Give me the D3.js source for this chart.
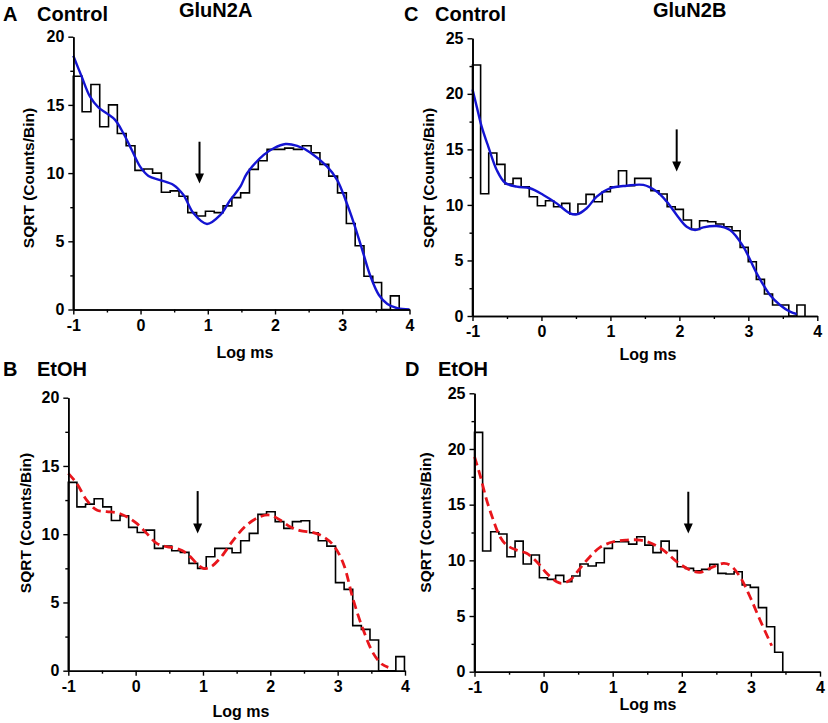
<!DOCTYPE html>
<html><head><meta charset="utf-8">
<script src="https://cdn.jsdelivr.net/npm/d3@7"></script>
<style>
body{margin:0;background:#fff}
text{font-family:"Liberation Sans",Arial,Helvetica,sans-serif;font-weight:bold;fill:#000}
</style>
</head><body>
<svg id="chart" width="828" height="723"></svg>
<script>
// ---------- DATA ----------
const xTicks = [-1, 0, 1, 2, 3, 4];
const xMinor = [-0.5, 0.5, 1.5, 2.5, 3.5];
const yTicks20 = [0, 5, 10, 15, 20];
const yMinor20 = [2.5, 7.5, 12.5, 17.5];
const yTicks25 = [0, 5, 10, 15, 20, 25];
const yMinor25 = [2.5, 7.5, 12.5, 17.5, 22.5];

// histogram bins (SQRT counts/bin), first bin starts at log ms = -1
const binWidthA = 0.131, binWidthB = 0.128, binWidthC = 0.1176, binWidthD = 0.1174;
const histA = [17.1,14.5,16.5,13.4,15.0,12.9,12.0,10.2,10.3,10.0,8.6,8.7,8.3,7.1,6.85,7.2,7.1,7.6,8.2,8.55,
  10.27,10.9,11.74,11.74,11.83,11.74,12.0,11.49,10.64,9.78,8.55,6.31,4.67,2.44,1.98,0,1.0];
const histB = [13.8,12.0,12.2,12.6,12.0,11.0,11.35,10.5,10.13,10.3,8.96,9.13,8.79,8.67,7.86,7.5,8.35,8.96,8.96,8.64,
  9.52,10.06,11.45,11.65,10.92,10.43,10.92,10.99,10.11,9.52,9.13,6.45,5.96,3.3,3.03,2.25,0,0,1.03];
const histC = [22.6,11.0,14.67,13.65,11.88,12.39,11.64,10.74,9.93,10.38,9.84,10.14,9.18,10.08,10.95,10.29,11.19,11.64,13.08,11.73,
  12.39,12.39,11.28,10.98,9.84,9.6,8.64,7.8,8.58,8.49,8.28,8.04,7.68,6.18,4.89,3.3,1.98,0.99,0.99,0,0.99];
const histD = [21.49,10.84,12.57,12.36,10.32,11.73,9.67,10.48,8.44,8.29,8.65,8.08,8.59,9.67,9.49,9.79,11.07,11.67,11.67,11.46,
  12.12,11.37,10.69,11.73,10.87,9.43,9.28,9.07,9.19,9.64,8.83,8.77,8.98,7.78,7.57,5.75,4.04,1.74];

// fitted curves
const fitAx = [-1.0,-0.875,-0.751,-0.627,-0.502,-0.379,-0.255,-0.130,-0.006,0.118,0.292,0.490,0.639,0.788,0.988,1.186,1.335,1.484,1.584,1.832,1.981,2.155,2.329,2.528,2.776,2.925,3.049,3.173,3.298,3.422,3.545,3.671,3.820,4.0];
const fitAy = [18.6,17.07,15.6,14.82,14.38,13.9,12.92,11.69,10.47,9.79,9.49,9.13,8.39,7.05,6.27,6.93,8.03,9.0,9.99,11.33,11.82,12.13,11.99,11.5,10.47,9.49,8.03,6.32,4.36,2.40,1.06,0.40,0.09,0.0];
const fitBx = [-1.0,-0.875,-0.727,-0.578,-0.43,-0.281,-0.133,0.016,0.164,0.313,0.461,0.610,0.758,0.907,1.005,1.104,1.253,1.451,1.649,1.847,1.995,2.144,2.292,2.441,2.639,2.787,2.935,3.084,3.232,3.381,3.529,3.654,3.752];
const fitBy = [14.46,13.72,12.5,11.77,11.65,11.58,11.28,10.79,10.06,9.33,9.08,8.96,8.6,7.86,7.5,7.57,8.23,9.57,10.67,11.28,11.4,11.04,10.55,10.26,10.11,9.82,9.2,7.86,5.18,2.98,1.27,0.49,0.24];
const fitCx = [-1.0,-0.939,-0.867,-0.771,-0.649,-0.529,-0.359,-0.166,0.027,0.221,0.414,0.511,0.656,0.801,0.994,1.236,1.477,1.671,1.816,1.961,2.106,2.227,2.347,2.541,2.734,2.927,3.121,3.314,3.459,3.604,3.701];
const fitCy = [20.4,18.85,17.05,15.25,13.15,12.0,11.64,11.5,10.9,10.14,9.24,9.15,9.7,10.74,11.5,11.73,11.8,11.2,10.3,9.1,8.04,7.74,7.98,8.1,7.74,6.24,3.84,1.89,0.99,0.39,0.18];
const fitDx = [-1.0,-0.920,-0.824,-0.728,-0.631,-0.535,-0.389,-0.245,-0.100,0.045,0.190,0.262,0.382,0.527,0.671,0.816,1.009,1.202,1.395,1.540,1.732,1.926,2.119,2.263,2.408,2.601,2.698,2.842,2.987,3.132,3.301];
const fitDy = [19.3,17.66,15.41,13.62,12.12,11.37,10.92,10.63,9.88,8.83,8.08,7.93,8.23,9.28,10.33,11.16,11.67,11.82,11.82,11.58,10.92,9.88,9.13,8.92,9.28,9.73,9.58,8.53,6.73,4.64,2.33];

// arrows: [x, top value, tip value]
const arrowA = [0.877, 12.3, 9.24];
const arrowB = [0.921, 13.16, 10.06];
const arrowC = [1.961, 16.8, 13.0];
const arrowD = [2.094, 16.16, 12.42];

// ---------- LAYOUT ----------
const svg = d3.select("#chart");
const BLUE = "#1414d2", RED = "#e8161c";
const FONT = '"Liberation Sans",Arial,Helvetica,sans-serif';

const panels = [
  {hist: histA, bw: binWidthA, fx: fitAx, fy: fitAy, arrow: arrowA, ymax: 20, yT: yTicks20, yM: yMinor20,
   x0: 73.3, x1: 409.5, yb: 309.5, yt: 36.7, color: BLUE, dash: null,
   ylab: [28.5, 178], xlab: [245, 358]},
  {hist: histB, bw: binWidthB, fx: fitBx, fy: fitBy, arrow: arrowB, ymax: 20, yT: yTicks20, yM: yMinor20,
   x0: 68.3, x1: 405, yb: 670.7, yt: 397.7, color: RED, dash: "9,5",
   ylab: [25, 523], xlab: [241, 717]},
  {hist: histC, bw: binWidthC, fx: fitCx, fy: fitCy, arrow: arrowC, ymax: 25, yT: yTicks25, yM: yMinor25,
   x0: 472.5, x1: 817.3, yb: 316, yt: 38.3, color: BLUE, dash: null,
   ylab: [428.5, 178], xlab: [648, 360]},
  {hist: histD, bw: binWidthD, fx: fitDx, fy: fitDy, arrow: arrowD, ymax: 25, yT: yTicks25, yM: yMinor25,
   x0: 474.5, x1: 820, yb: 671.7, yt: 393.3, color: RED, dash: "9,5",
   ylab: [425, 522.5], xlab: [648, 710]}
];

panels.forEach(p => {
  const x = d3.scaleLinear().domain([-1, 4]).range([p.x0, p.x1]);
  const y = d3.scaleLinear().domain([0, p.ymax]).range([p.yb, p.yt]);
  const g = svg.append("g");

  // histogram step outline
  const pts = [[x(-1), y(0)]];
  p.hist.forEach((v, i) => {
    const l = -1 + i * p.bw, r = -1 + (i + 1) * p.bw;
    pts.push([x(l), y(v)], [x(r), y(v)]);
  });
  pts.push([x(-1 + p.hist.length * p.bw), y(0)]);
  g.append("path").attr("d", d3.line()(pts))
    .attr("fill", "none").attr("stroke", "#000").attr("stroke-width", 1.6)
    .attr("stroke-linejoin", "miter");

  // fitted curve
  const line = d3.line().x(d => x(d[0])).y(d => y(d[1])).curve(d3.curveCatmullRom.alpha(0.5));
  const cp = g.append("path").attr("d", line(p.fx.map((v, i) => [v, p.fy[i]])))
    .attr("fill", "none").attr("stroke", p.color).attr("stroke-width", p.dash ? 2.8 : 2.4);
  if (p.dash) cp.attr("stroke-dasharray", p.dash);

  // axes
  const fmt = d => String(d);
  g.append("g").attr("transform", `translate(0,${p.yb})`)
    .call(d3.axisBottom(x).tickValues(xTicks).tickSize(5).tickSizeOuter(0).tickPadding(5).tickFormat(fmt));
  g.append("g").attr("transform", `translate(0,${p.yb})`)
    .call(d3.axisBottom(x).tickValues(xMinor).tickSize(3).tickSizeOuter(0).tickFormat(""));
  g.append("g").attr("transform", `translate(${p.x0},0)`)
    .call(d3.axisLeft(y).tickValues(p.yT).tickSize(5).tickSizeOuter(0).tickPadding(4).tickFormat(fmt));
  g.append("g").attr("transform", `translate(${p.x0},0)`)
    .call(d3.axisLeft(y).tickValues(p.yM).tickSize(3).tickSizeOuter(0).tickFormat(""));
  g.selectAll(".domain").attr("stroke", "#000").attr("stroke-width", 1.6);
  g.selectAll(".tick line").attr("stroke", "#000").attr("stroke-width", 1.4);
  g.selectAll(".tick text").style("font-size", "16px").style("font-family", FONT)
    .style("font-weight", "bold").attr("fill", "#000");

  // arrow
  const [ax, a1, a2] = p.arrow;
  const tipY = y(a2);
  g.append("line").attr("x1", x(ax)).attr("x2", x(ax)).attr("y1", y(a1)).attr("y2", tipY - 6)
    .attr("stroke", "#000").attr("stroke-width", 2);
  g.append("path").attr("d", `M${x(ax) - 4.5},${tipY - 10} L${x(ax) + 4.5},${tipY - 10} L${x(ax)},${tipY} Z`)
    .attr("fill", "#000");

  // axis labels
  g.append("text").attr("transform", `translate(${p.ylab[0]},${p.ylab[1]}) rotate(-90)`)
    .attr("text-anchor", "middle").attr("dominant-baseline", "central").style("font-size", "15.5px")
    .text("SQRT (Counts/Bin)");
  g.append("text").attr("x", p.xlab[0]).attr("y", p.xlab[1]).attr("text-anchor", "middle")
    .style("font-size", "16px").text("Log ms");
});

// titles
const titles = [
  ["A", 3, 21], ["Control", 37, 21], ["GluN2A", 179, 17],
  ["C", 404, 21], ["Control", 435, 21], ["GluN2B", 653, 17],
  ["B", 3, 376], ["EtOH", 37, 376],
  ["D", 405, 376], ["EtOH", 438, 376]
];
titles.forEach(t => svg.append("text").attr("x", t[1]).attr("y", t[2]).style("font-size", "20px").text(t[0]));
</script>
</body></html>
